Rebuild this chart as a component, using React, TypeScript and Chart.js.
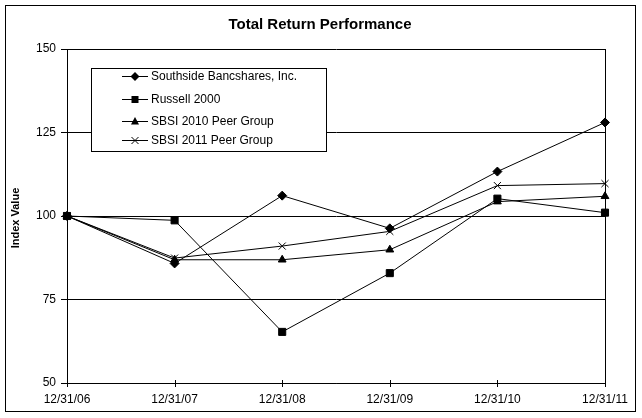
import React, { useEffect, useRef } from "react";
import { Chart, registerables } from "chart.js";

Chart.register(...registerables);

const categories = ["12/31/06", "12/31/07", "12/31/08", "12/31/09", "12/31/10", "12/31/11"];
const southside = [100, 85.8, 106.1, 96.3, 113.3, 128.0];
const russell = [100, 98.7, 65.3, 82.9, 105.2, 101.0];
const peer2010 = [100, 86.9, 86.9, 89.9, 104.3, 105.9];
const peer2011 = [100, 87.4, 91.0, 95.4, 109.1, 109.7];
const seriesNames = [
  "Southside Bancshares, Inc.",
  "Russell 2000",
  "SBSI 2010 Peer Group",
  "SBSI 2011 Peer Group",
];
const chartTitle = "Total Return Performance";
const yTitle = "Index Value";

const FONT = "Arial, 'Liberation Sans', sans-serif";

function drawMarker(ctx: CanvasRenderingContext2D, kind: string, x: number, y: number) {
  ctx.save();
  ctx.fillStyle = "#000";
  ctx.strokeStyle = "#000";
  ctx.lineWidth = 1;
  ctx.beginPath();
  if (kind === "diamond") {
    const r = 4.5;
    ctx.moveTo(x, y - r);
    ctx.lineTo(x + r, y);
    ctx.lineTo(x, y + r);
    ctx.lineTo(x - r, y);
    ctx.closePath();
    ctx.fill();
  } else if (kind === "square") {
    ctx.fillRect(x - 3.5, y - 3.5, 7, 7);
  } else if (kind === "triangle") {
    ctx.moveTo(x, y - 4.5);
    ctx.lineTo(x + 4, y + 3);
    ctx.lineTo(x - 4, y + 3);
    ctx.closePath();
    ctx.fill();
  } else {
    ctx.moveTo(x - 3.5, y - 3.5);
    ctx.lineTo(x + 3.5, y + 3.5);
    ctx.moveTo(x + 3.5, y - 3.5);
    ctx.lineTo(x - 3.5, y + 3.5);
    ctx.stroke();
  }
  ctx.restore();
}

const markerKinds = ["diamond", "square", "triangle", "cross"];

const decorPlugin = {
  id: "decor",
  afterDraw(chart: any) {
    const ctx: CanvasRenderingContext2D = chart.ctx;
    const area = chart.chartArea;
    const xs = chart.scales.x;
    ctx.save();
    // outer border
    ctx.strokeStyle = "#000";
    ctx.lineWidth = 1;
    ctx.strokeRect(5.5, 5.5, 630, 406);
    // right border of plot area
    ctx.beginPath();
    ctx.moveTo(Math.round(area.right) + 0.5, area.top);
    ctx.lineTo(Math.round(area.right) + 0.5, area.bottom);
    ctx.stroke();
    // crossing x ticks
    for (let i = 0; i < categories.length; i++) {
      const px = Math.round(xs.getPixelForValue(i)) + 0.5;
      ctx.beginPath();
      ctx.moveTo(px, area.bottom - 3);
      ctx.lineTo(px, area.bottom + 4);
      ctx.stroke();
    }
    // title
    ctx.fillStyle = "#000";
    ctx.font = "bold 15px " + FONT;
    ctx.textAlign = "center";
    ctx.textBaseline = "middle";
    ctx.fillText(chartTitle, 320, 25);
    // y title
    ctx.save();
    ctx.translate(16, 218);
    ctx.rotate(-Math.PI / 2);
    ctx.font = "bold 11px " + FONT;
    ctx.fillText(yTitle, 0, 0);
    ctx.restore();
    // legend
    ctx.fillStyle = "#fff";
    ctx.fillRect(92, 69, 235, 83);
    ctx.strokeStyle = "#000";
    ctx.strokeRect(91.5, 68.5, 235, 83);
    const rows = [76, 99, 121, 140];
    ctx.font = "12px " + FONT;
    ctx.textAlign = "left";
    ctx.textBaseline = "middle";
    for (let i = 0; i < seriesNames.length; i++) {
      const y = rows[i] + 0.5;
      ctx.beginPath();
      ctx.strokeStyle = "#000";
      ctx.moveTo(122, y);
      ctx.lineTo(148, y);
      ctx.stroke();
      drawMarker(ctx, markerKinds[i], 135, y);
      ctx.fillStyle = "#000";
      ctx.fillText(seriesNames[i], 151, rows[i] + 1);
    }
    ctx.restore();
  },
};

export default function App() {
  const ref = useRef<HTMLCanvasElement | null>(null);
  useEffect(() => {
    document.body.style.margin = "0";
    const canvas = ref.current;
    if (!canvas) return;
    const common = {
      borderColor: "#000",
      borderWidth: 1,
      pointBackgroundColor: "#000",
      pointBorderColor: "#000",
      pointBorderWidth: 1,
      tension: 0,
      fill: false,
    };
    const chart = new Chart(canvas, {
      type: "line",
      data: {
        labels: categories,
        datasets: [
          { ...common, label: seriesNames[0], data: southside, pointStyle: "rectRot", pointRadius: 4.5 },
          { ...common, label: seriesNames[1], data: russell, pointStyle: "rect", pointRadius: 5 },
          { ...common, label: seriesNames[2], data: peer2010, pointStyle: "triangle", pointRadius: 4.5 },
          { ...common, label: seriesNames[3], data: peer2011, pointStyle: "crossRot", pointRadius: 5 },
        ],
      },
      options: {
        responsive: false,
        animation: false,
        devicePixelRatio: 1,
        layout: { padding: { top: 49, right: 37, left: 0, bottom: 0 } },
        plugins: {
          legend: { display: false },
          title: { display: false },
          tooltip: { enabled: false },
        },
        scales: {
          x: {
            type: "category",
            offset: false,
            grid: { display: false },
            border: { display: true, color: "#000", width: 1 },
            ticks: {
              color: "#000",
              font: { family: FONT, size: 12 },
              maxRotation: 0,
              autoSkip: false,
              padding: 1,
            },
            afterFit: (scale: any) => {
              scale.height = 35;
            },
          },
          y: {
            min: 50,
            max: 150,
            grid: { color: "#000", lineWidth: 1, tickLength: 6, drawTicks: true },
            border: { display: true, color: "#000", width: 1 },
            ticks: {
              stepSize: 25,
              color: "#000",
              font: { family: FONT, size: 12 },
              padding: 5,
            },
            afterFit: (scale: any) => {
              scale.width = 67;
            },
          },
        },
      },
      plugins: [decorPlugin],
    } as any);
    return () => chart.destroy();
  }, []);
  return (
    <div style={{ position: "absolute", left: 0, top: 0, width: 642, height: 418, background: "#fff" }}>
      <canvas ref={ref} width={642} height={418} />
    </div>
  );
}
